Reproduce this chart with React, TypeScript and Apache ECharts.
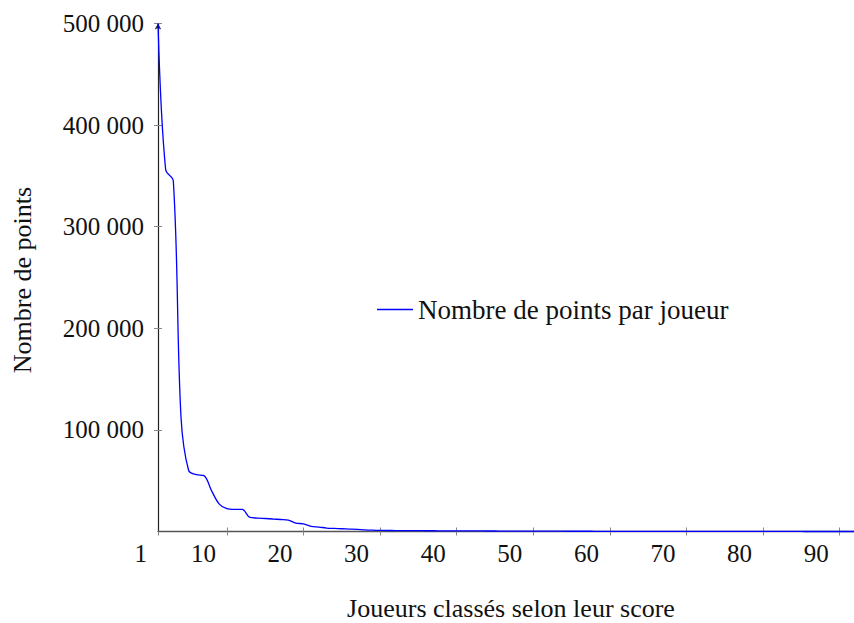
import React, { useEffect, useRef } from "react";
import * as echarts from "echarts";

const xTickValues = [1, 10, 20, 30, 40, 50, 60, 70, 80, 90];
const yTickValues = [100000, 200000, 300000, 400000, 500000];
const ranks = Array.from({ length: 92 }, (_, i) => i + 1);
const points = [
  500000, 356000, 345000, 113000, 60000, 56000, 55000, 40000, 27000, 22500,
  21800, 21700, 13800, 13200, 12800, 12300, 11800, 11300, 8200, 7600,
  5000, 4400, 3400, 3000, 2700, 2400, 2100, 1600, 1300, 1100,
  1000, 950, 900, 850, 800, 760, 720, 680, 650, 620,
  600, 570, 540, 510, 480, 450, 420, 400, 380, 360,
  340, 320, 300, 280, 260, 245, 230, 215, 200, 190,
  180, 170, 160, 150, 140, 130, 120, 110, 100, 95,
  90, 85, 80, 75, 70, 65, 60, 55, 50, 45,
  40, 36, 32, 28, 25, 22, 19, 16, 13, 10,
  8, 6,
];
const seriesName = "Nombre de points par joueur";
const xTitle = "Joueurs classés selon leur score";
const yTitle = "Nombre de points";

const FONT = "'Liberation Serif', 'Times New Roman', serif";

function fmt(v: number): string {
  if (v === 0) return "";
  const s = String(Math.round(v));
  return s.replace(/\B(?=(\d{3})+(?!\d))/g, " ");
}

export default function App() {
  const ref = useRef<HTMLDivElement>(null);
  useEffect(() => {
    if (!ref.current) return;
    const chart = echarts.init(ref.current, undefined, { renderer: "svg" });
    const data = ranks.map((r, i) => [r, points[i]]);
    chart.setOption({
      animation: false,
      backgroundColor: "#ffffff",
      textStyle: { fontFamily: FONT },
      grid: {
        left: 158,
        right: -1,
        top: 23.5,
        bottom: 91.5,
        containLabel: false,
        outerBoundsMode: "none",
      },
      legend: {
        show: true,
        left: 377,
        top: 296,
        padding: 0,
        icon: "rect",
        itemWidth: 36,
        itemHeight: 1.3,
        textStyle: { fontFamily: FONT, fontSize: 27, color: "#111", lineHeight: 27 },
        data: [seriesName],
      },
      xAxis: [
        {
          type: "value",
          min: 1,
          max: 92,
          z: 0,
          splitLine: { show: false },
          axisLine: { show: true, lineStyle: { color: "#555", width: 1.3 } },
          axisTick: {
            show: true,
            length: 4,
            customValues: xTickValues,
            lineStyle: { color: "#888", width: 1 },
          },
          axisLabel: {
            show: true,
            customValues: xTickValues,
            formatter: (v: number) => String(v),
            align: "right",
            padding: [0, 11, 0, 0],
            margin: 9,
            fontFamily: FONT,
            fontSize: 25,
            lineHeight: 25,
            color: "#111",
          },
        },
        {
          type: "value",
          min: 1,
          max: 92,
          position: "bottom",
          z: 0,
          splitLine: { show: false },
          axisLine: { show: false },
          axisTick: {
            show: true,
            inside: true,
            length: 4,
            customValues: xTickValues.slice(1),
            lineStyle: { color: "#888", width: 1 },
          },
          axisLabel: { show: false },
        },
      ],
      yAxis: [
        {
          type: "value",
          min: 0,
          max: 500000,
          interval: 100000,
          z: 0,
          splitLine: { show: false },
          axisLine: {
            show: true,
            symbol: ["none", "arrow"],
            symbolSize: [5, 6],
            lineStyle: { color: "#222", width: 1.2 },
          },
          axisTick: {
            show: true,
            length: 4,
            customValues: yTickValues,
            lineStyle: { color: "#888", width: 1 },
          },
          axisLabel: {
            show: true,
            customValues: yTickValues,
            formatter: (v: number) => fmt(v),
            margin: 14,
            fontFamily: FONT,
            fontSize: 25,
            color: "#111",
          },
        },
        {
          type: "value",
          min: 0,
          max: 500000,
          interval: 100000,
          position: "left",
          z: 0,
          splitLine: { show: false },
          axisLine: { show: false },
          axisTick: {
            show: true,
            inside: true,
            length: 4,
            customValues: yTickValues,
            lineStyle: { color: "#888", width: 1 },
          },
          axisLabel: { show: false },
        },
      ],
      series: [
        {
          name: seriesName,
          type: "line",
          data,
          xAxisIndex: 0,
          yAxisIndex: 0,
          z: 10,
          smooth: 0.35,
          symbol: "none",
          showSymbol: false,
          clip: false,
          lineStyle: { color: "#0000ff", width: 1.3 },
          itemStyle: { color: "#0000ff" },
        },
      ],
      graphic: [
        {
          type: "text",
          x: 511,
          y: 608,
          style: {
            text: xTitle,
            fontFamily: FONT,
            fontSize: 26,
            fill: "#111",
            align: "center",
            verticalAlign: "middle",
          },
        },
        {
          type: "text",
          x: 22,
          y: 280,
          rotation: Math.PI / 2,
          style: {
            text: yTitle,
            fontFamily: FONT,
            fontSize: 26,
            fill: "#111",
            align: "center",
            verticalAlign: "middle",
          },
        },
      ],
    });
    return () => chart.dispose();
  }, []);
  return (
    <div
      ref={ref}
      style={{ position: "fixed", left: 0, top: 0, width: 854, height: 623, background: "#fff" }}
    />
  );
}
